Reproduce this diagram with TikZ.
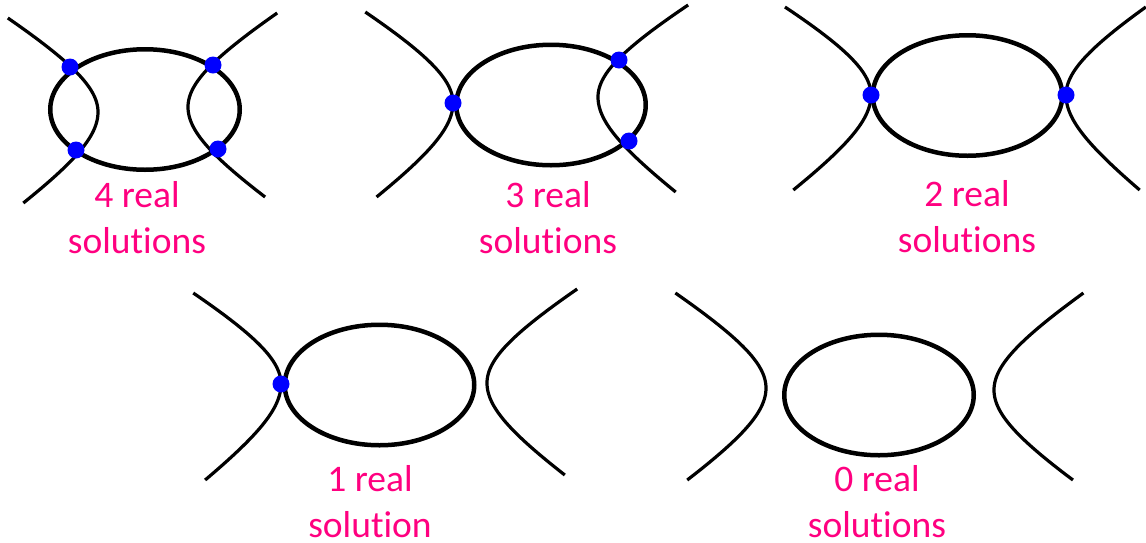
\documentclass[tikz,border=0pt]{standalone}
\usepackage{fontspec}
\setmainfont{Carlito}[Ligatures=NoCommon]
\usetikzlibrary{shapes.geometric}
\definecolor{solpink}{RGB}{255,0,128}
\definecolor{solblue}{RGB}{0,0,255}
\tikzset{
  ell/.style={ellipse, draw=black, line width=4.5pt, inner sep=0pt, minimum width=189.5pt, minimum height=120.5pt},
  hypline/.style={draw=black, line width=3.2pt},
  sol/.style={circle, fill=solblue, inner sep=0pt, minimum size=17pt},
  lab/.style={text=solpink, align=center, anchor=base, font=\fontsize{37.5}{45.5}\selectfont}
}
% \hyp{vx}{vy}{sign}{a top}{dy top}{a bottom}{dy bottom}
\newcommand\hyp[7]{%
  \draw[hypline] plot[domain=-#5:0, samples=40, variable=\u] ({#1+(#3)*(#4)*(sqrt(1+(\u/55)*(\u/55))-1)}, {#2+\u})
    -- plot[domain=0:#7, samples=40, variable=\u] ({#1+(#3)*(#6)*(sqrt(1+(\u/55)*(\u/55))-1)}, {#2+\u});%
}
\begin{document}
\begin{tikzpicture}[x=1pt, y=-1pt]
\useasboundingbox (0,0) rectangle (1146,542);
% panel 1
\node[ell] (e1) at (145,109.5) {};
\hyp{98}{112}{-1}{92}{94}{80}{91}
\hyp{188}{107}{1}{91}{94}{84}{90}
\node[sol] (d1a) at (70,67) {};
\node[sol] (d1b) at (213,65) {};
\node[sol] (d1c) at (76,150) {};
\node[sol] (d1d) at (218,149) {};
\node[lab] (l1) at (137,253) {4 real\\solutions};
% panel 2
\node[ell] (e2) at (551,105) {};
\hyp{453}{103}{-1}{94}{91}{78}{94}
\hyp{598}{97}{1}{95}{92}{78}{95}
\node[sol] (d2a) at (453,103) {};
\node[sol] (d2b) at (619,60) {};
\node[sol] (d2c) at (629,141) {};
\node[lab] (l2) at (548,253) {3 real\\solutions};
% panel 3
\node[ell] (e3) at (967.5,95.5) {};
\hyp{871}{95}{-1}{97}{88}{78}{95}
\hyp{1066}{95}{1}{90}{88}{74}{95}
\node[sol] (d3a) at (871,95) {};
\node[sol] (d3b) at (1066,95) {};
\node[lab] (l3) at (967,252) {2 real\\solutions};
% panel 4
\node[ell] (e4) at (379.5,385) {};
\hyp{281}{384}{-1}{94}{91}{75}{96}
\hyp{487}{383}{1}{92}{94}{82}{92}
\node[sol] (d4a) at (281,384) {};
\node[lab] (l4) at (370,537) {1 real\\solution};
% panel 5
\node[ell] (e5) at (879,395) {};
\hyp{766}{388}{-1}{91}{95}{83}{92}
\hyp{994}{390}{1}{87}{97}{86}{90}
\node[lab] (l5) at (877,537) {0 real\\solutions};
\end{tikzpicture}
\end{document}
